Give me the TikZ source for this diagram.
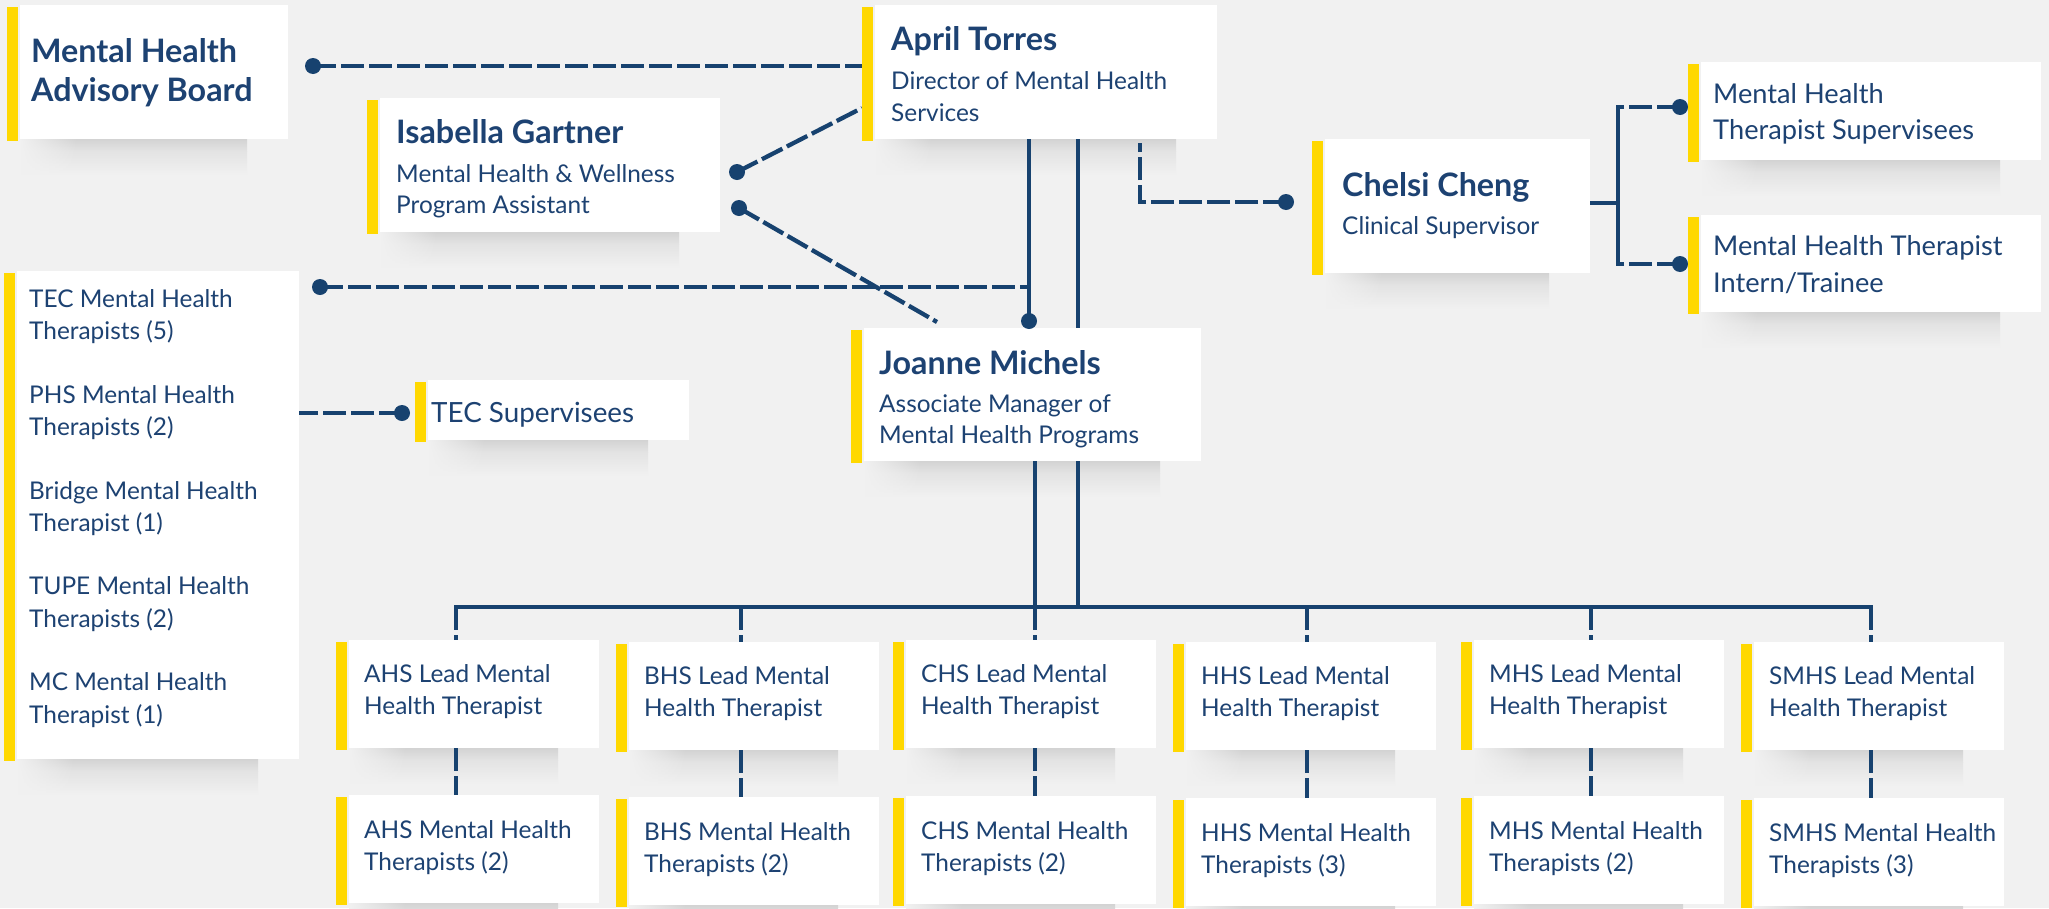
\documentclass[tikz,border=0pt]{standalone}
\usepackage{fontspec}
\setmainfont{Lato}
\usetikzlibrary{calc,fadings}
\definecolor{bg}{HTML}{F1F1F1}
\definecolor{navy}{HTML}{17426F}
\definecolor{txtc}{HTML}{1D4272}
\definecolor{ybar}{HTML}{FFD800}
\definecolor{shdA}{HTML}{D3D3D3}
\definecolor{shdB}{HTML}{E3E3E3}
\tikzfading[name=leftfade, left color=transparent!0, right color=transparent!100]
\pgfdeclarelayer{shadowlayer}
\pgfdeclarelayer{linelayer}
\pgfsetlayers{shadowlayer,linelayer,main}
% #1 name, #2 x0 (bar left), #3 y0 (top), #4 x1 (right), #5 y1 (bottom)
\newcommand\orgbox[5]{%
  \begin{pgfonlayer}{shadowlayer}
    \shade[top color=shdA, bottom color=shdB] ({#2+14},#5) rectangle ({#4-41},{#5+12});
    \shade[top color=shdB, bottom color=bg] ({#2+14},{#5+12}) rectangle ({#4-41},{#5+36});
    \fill[bg, path fading=leftfade] ({#2+13},#5) rectangle ({#2+70},{#5+37});
  \end{pgfonlayer}
  \node[whitebox, minimum width={#4-#2-13}, minimum height={#5-#3}] (#1) at ({#2+13},#3) {};
  \node[ybarbox, minimum height={#5-#3}] (#1bar) at (#2,{#3+2}) {};
}
\begin{document}
\begin{tikzpicture}[x=1pt,y=-1pt,
  whitebox/.style={fill=white, draw=none, inner sep=0pt, outer sep=0pt, anchor=north west},
  ybarbox/.style={fill=ybar, draw=none, inner sep=0pt, outer sep=0pt, anchor=north west, minimum width=11pt},
  nm/.style={font=\fontsize{32.3}{38}\selectfont\bfseries, text=txtc, inner sep=0pt, anchor=base west},
  rg/.style={font=\fontsize{24.4}{30}\selectfont, text=txtc, inner sep=0pt, anchor=base west},
  rgl/.style={font=\fontsize{27.2}{32}\selectfont, text=txtc, inner sep=0pt, anchor=base west},
  solidline/.style={draw=navy, line width=4pt},
  dashline/.style={draw=navy, line width=4.3pt, dash pattern=on 23pt off 5pt},
  dot/.style={circle, fill=navy, draw=none, inner sep=0pt, minimum size=16pt}
]
\useasboundingbox (0,0) rectangle (2049,908);
\begin{pgfonlayer}{shadowlayer}
  \fill[bg] (0,0) rectangle (2049,908);
\end{pgfonlayer}

% ---------- boxes ----------
\orgbox{adv}{7}{5}{288}{139}
\orgbox{april}{862}{5}{1217}{139}
\orgbox{isab}{367}{98}{720}{232}
\orgbox{teclist}{4}{271}{299}{759}
\orgbox{tecsup}{415}{380}{689}{440}
\orgbox{joanne}{851}{328}{1201}{461}
\orgbox{chelsi}{1312}{139}{1590}{273}
\orgbox{mhts}{1688}{62}{2041}{160}
\orgbox{intern}{1688}{215}{2041}{312}

% ---------- texts ----------
\node[nm] (advt1) at (31,62) {Mental Health};
\node[nm] (advt2) at (31,101) {Advisory Board};
\node[nm] (aprt1) at (891,50) {April Torres};
\node[rg] (aprt2) at (891,89) {Director of Mental Health};
\node[rg] (aprt3) at (891,121) {Services};
\node[nm] (isat1) at (396,143) {Isabella Gartner};
\node[rg] (isat2) at (396,182) {Mental Health \& Wellness};
\node[rg] (isat3) at (396,213) {Program Assistant};
\node[rg] (tl1) at (29,307) {TEC Mental Health};
\node[rg] (tl2) at (29,339) {Therapists (5)};
\node[rg] (tl3) at (29,403) {PHS Mental Health};
\node[rg] (tl4) at (29,435) {Therapists (2)};
\node[rg] (tl5) at (29,499) {Bridge Mental Health};
\node[rg] (tl6) at (29,531) {Therapist (1)};
\node[rg] (tl7) at (29,594) {TUPE Mental Health};
\node[rg] (tl8) at (29,627) {Therapists (2)};
\node[rg] (tl9) at (29,690) {MC Mental Health};
\node[rg] (tl10) at (29,723) {Therapist (1)};
\node[rgl, font=\fontsize{27.8}{32}\selectfont] (tst1) at (431,422) {TEC Supervisees};
\node[nm] (jot1) at (879,374) {Joanne Michels};
\node[rg] (jot2) at (879,412) {Associate Manager of};
\node[rg] (jot3) at (879,443) {Mental Health Programs};
\node[nm] (cht1) at (1342,196) {Chelsi Cheng};
\node[rg] (cht2) at (1342,234) {Clinical Supervisor};
\node[rgl] (mht1) at (1713,103) {Mental Health};
\node[rgl] (mht2) at (1713,139) {Therapist Supervisees};
\node[rgl] (int1) at (1713,255) {Mental Health Therapist};
\node[rgl] (int2) at (1713,292) {Intern/Trainee};

% ---------- dots ----------
\node[dot] (dadv) at (313,66) {};
\node[dot] (disa1) at (737,172) {};
\node[dot] (disa2) at (739,208) {};
\node[dot] (dtec) at (320,287) {};
\node[dot] (dj) at (1029,321) {};
\node[dot] (dsup) at (402,413) {};
\node[dot] (dchel) at (1286,202) {};
\node[dot] (dmh) at (1680,107) {};
\node[dot] (din) at (1680,264) {};

\coordinate (busL) at (456,607);
\coordinate (busR) at (1871,607);

% ---------- bottom rows ----------
\foreach \n/\lab/\xo/\yl/\yt/\cnt/\sx in {ahs/AHS/336/640/795/2/456, bhs/BHS/616/642/797/2/741, chs/CHS/893/640/796/2/1035, hhs/HHS/1173/642/798/3/1307, mhs/MHS/1461/640/796/2/1591, smhs/SMHS/1741/642/798/3/1871}{
  \orgbox{\n l}{\xo}{\yl}{\xo+263}{\yl+108}
  \orgbox{\n t}{\xo}{\yt}{\xo+263}{\yt+108}
  \node[rg] (\n la) at ({\xo+28},{\yl+42}) {\lab\ Lead Mental};
  \node[rg] (\n lb) at ({\xo+28},{\yl+74}) {Health Therapist};
  \node[rg] (\n ta) at ({\xo+28},{\yt+43}) {\lab\ Mental Health};
  \node[rg] (\n tb) at ({\xo+28},{\yt+75}) {Therapists (\cnt)};
  \coordinate (\n s) at (\sx,607);
  \begin{pgfonlayer}{linelayer}
    \draw[dashline] (\n s) -- (\n s |- \n l.north);
    \draw[dashline] (\n s |- \n l.south) -- (\n s |- \n t.north);
  \end{pgfonlayer}
}

% ---------- connectors ----------
\begin{pgfonlayer}{linelayer}
  \draw[dashline] (dadv.center) -- (aprilbar.west |- dadv.center);
  \draw[dashline] (disa1.center) -- ($(aprilbar.north west)+(0,101)$);
  \draw[dashline] (disa2.center) -- ($(joanne.north west)+(73,-6)$);
  \draw[dashline] (dtec.center) -- (dj.center |- dtec.center);
  \draw[solidline] (april.south -| dj.center) -- (dj.center);
  \draw[solidline] ($(april.south west)+(203,0)$) coordinate (a2) -- (a2 |- busL);
  \draw[solidline] ($(joanne.south west)+(171,0)$) coordinate (j1) -- (j1 |- busL);
  \draw[solidline, line cap=rect] (busL) -- (busR);
  \draw[dashline] (dsup.center) -- (teclist.east |- dsup.center);
  \draw[dashline] (dchel.center) -| ($(april.south west)+(265,4)$);
  \draw[solidline] ($(chelsi.east)+(0,-3)$) -- ++(28,0) coordinate (cbr);
  \draw[solidline, line cap=rect] (cbr |- dmh.center) -- (cbr |- din.center);
  \draw[dashline] (dmh.center) -- (cbr |- dmh.center);
  \draw[dashline] (din.center) -- (cbr |- din.center);
\end{pgfonlayer}
\end{tikzpicture}
\end{document}
